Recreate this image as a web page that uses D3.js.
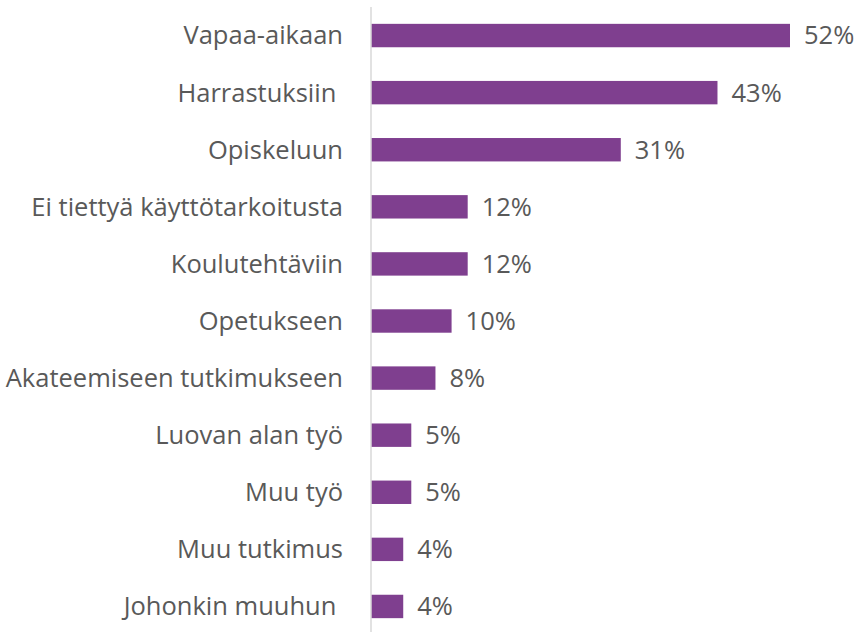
<!DOCTYPE html>
<html>
<head>
<meta charset="utf-8">
<script src="https://cdn.jsdelivr.net/npm/d3@7"></script>
<style>
  body { margin: 0; background: #fff; }
  text { font-family: "Open Sans", sans-serif; fill: #595959; white-space: pre; }
</style>
</head>
<body>
<div id="chart"></div>
<script>
const categories = [
  'Vapaa-aikaan', 'Harrastuksiin ', 'Opiskeluun', 'Ei tiettyä käyttötarkoitusta',
  'Koulutehtäviin', 'Opetukseen', 'Akateemiseen tutkimukseen', 'Luovan alan työ',
  'Muu työ', 'Muu tutkimus', 'Johonkin muuhun '
];
const values = [52, 43, 31, 12, 12, 10, 8, 5, 5, 4, 4];

const width = 858, height = 632;
const left = 371;

const svg = d3.select('#chart').append('svg')
  .attr('width', width).attr('height', height);

const x = d3.scaleLinear().domain([0, 52]).range([left, 790]);
const y = d3.scaleBand().domain(categories).range([7, 635]).paddingInner(0.59).paddingOuter(0.295);

svg.append('g').selectAll('rect')
  .data(values)
  .join('rect')
  .attr('x', x(0))
  .attr('y', (d, i) => y(categories[i]))
  .attr('width', d => x(d) - x(0))
  .attr('height', y.bandwidth())
  .attr('fill', '#7f3f8f');

svg.append('line')
  .attr('x1', left).attr('x2', left)
  .attr('y1', 7).attr('y2', height)
  .attr('stroke', '#d9d9d9').attr('stroke-width', 1.5);

svg.append('g').selectAll('text')
  .data(categories)
  .join('text')
  .attr('x', 343)
  .attr('y', d => y(d) + y.bandwidth() / 2)
  .attr('dy', '0.35em')
  .attr('text-anchor', 'end')
  .style('font-size', '25.5px')
  .text(d => d);

svg.append('g').selectAll('text')
  .data(values)
  .join('text')
  .attr('x', d => x(d) + 14)
  .attr('y', (d, i) => y(categories[i]) + y.bandwidth() / 2)
  .attr('dy', '0.35em')
  .style('font-size', '25.5px')
  .text(d => d + '%');
</script>
</body>
</html>
